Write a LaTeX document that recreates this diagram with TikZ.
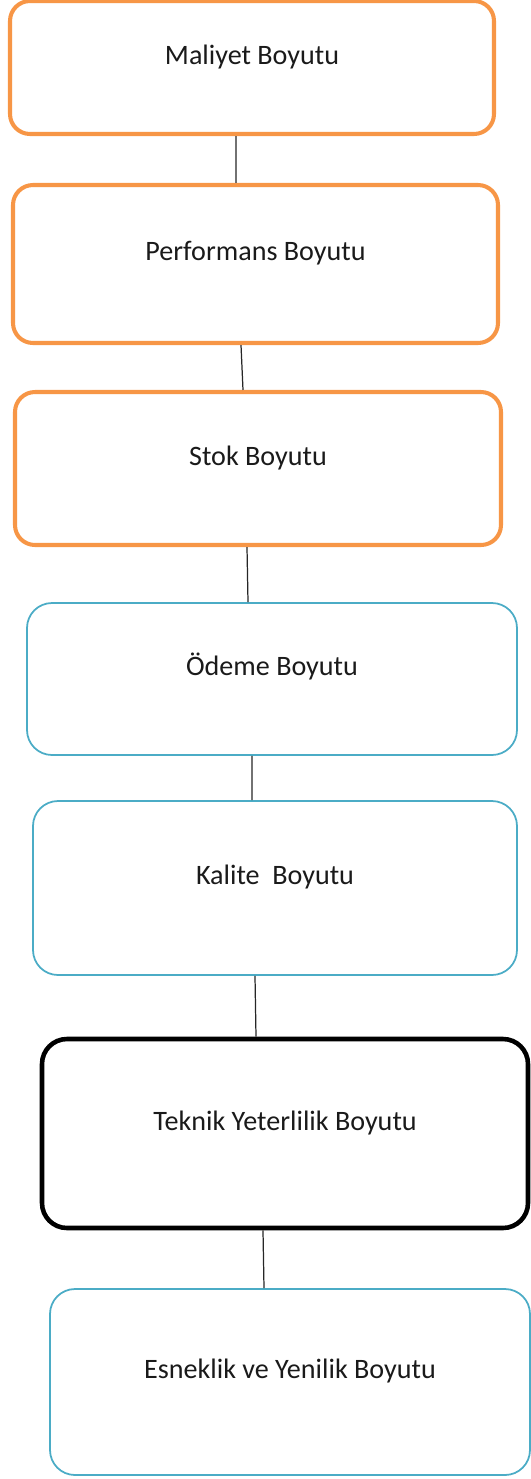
\documentclass[tikz,border=0pt]{standalone}
\usepackage{fontspec}
\setmainfont{Carlito}
\usepackage{xcolor}
\usetikzlibrary{positioning}

\definecolor{boxorange}{HTML}{F79646}
\definecolor{boxblue}{HTML}{4BACC6}
\definecolor{boxtext}{HTML}{1A1A1A}

\begin{document}
\begin{tikzpicture}[
        box/.style={
            rectangle,
            align=center,
            fill=white,
            text=boxtext,
            font=\fontsize{16}{19}\selectfont,
            text height=0.4cm,
            text depth=0.54cm
        },
        orangebox/.style={box, draw=boxorange, line width=2.3pt, rounded corners=0.4cm},
        bluebox/.style={box, draw=boxblue, line width=1pt, rounded corners=0.5cm},
        blackbox/.style={box, draw=black, line width=2.6pt, rounded corners=0.5cm},
        link/.style={draw=black!85, line width=0.7pt}
    ]

        \useasboundingbox (0,0) rectangle (10.62,-29.58);

        \node[orangebox, minimum width=9.68cm, minimum height=2.66cm] (maliyet) at (5.04,-1.35) {Maliyet Boyutu};

        \node[orangebox, minimum width=9.70cm, minimum height=3.16cm] (performans) at (5.11,-5.28) {Performans Boyutu};

        \node[orangebox, minimum width=9.72cm, minimum height=3.06cm] (stok) at (5.16,-9.37) {Stok Boyutu};

        \node[bluebox, minimum width=9.80cm, minimum height=3.04cm] (odeme) at (5.44,-13.58) {Ödeme Boyutu};

        \node[bluebox, minimum width=9.68cm, minimum height=3.48cm] (kalite) at (5.50,-17.76) {Kalite~ Boyutu};

        \node[blackbox, minimum width=9.72cm, minimum height=3.78cm] (teknik) at (5.70,-22.67) {Teknik Yeterlilik Boyutu};

        \node[bluebox, minimum width=9.60cm, minimum height=3.72cm] (esneklik) at (5.80,-27.64) {Esneklik ve Yenilik Boyutu};

        \draw[link] ([xshift=-0.32cm]maliyet.south) -- ([xshift=-0.39cm]performans.north);
        \draw[link] ([xshift=-0.29cm]performans.south) -- ([xshift=-0.30cm]stok.north);
        \draw[link] ([xshift=-0.22cm]stok.south) -- ([xshift=-0.48cm]odeme.north);
        \draw[link] ([xshift=-0.40cm]odeme.south) -- ([xshift=-0.46cm]kalite.north);
        \draw[link] ([xshift=-0.40cm]kalite.south) -- ([xshift=-0.58cm]teknik.north);
        \draw[link] ([xshift=-0.44cm]teknik.south) -- ([xshift=-0.52cm]esneklik.north);

    \end{tikzpicture}
\end{document}
